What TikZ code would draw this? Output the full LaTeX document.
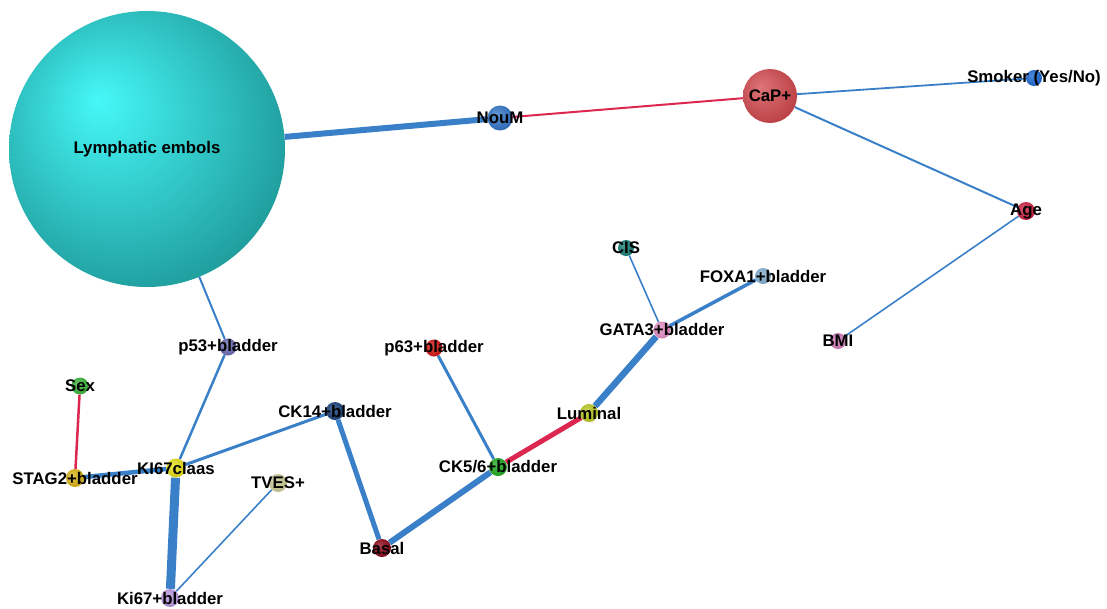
\documentclass[tikz,border=0pt]{standalone}
\usepackage{fontspec}
\setmainfont{Liberation Sans}
\usetikzlibrary{backgrounds}
\definecolor{edgeblue}{RGB}{58,128,200}
\definecolor{edgered}{RGB}{220,40,80}
\definecolor{lymphtop}{RGB}{70,248,248}
\definecolor{lymphedge}{RGB}{30,152,152}
\definecolor{noumc}{RGB}{45,115,200}
\definecolor{capc}{RGB}{210,70,75}
\definecolor{smokerc}{RGB}{20,100,210}
\definecolor{agec}{RGB}{205,25,60}
\definecolor{bmic}{RGB}{210,120,185}
\definecolor{cisc}{RGB}{15,125,115}
\definecolor{foxac}{RGB}{130,175,210}
\definecolor{gatac}{RGB}{230,140,195}
\definecolor{psixc}{RGB}{215,15,15}
\definecolor{luminalc}{RGB}{185,200,25}
\definecolor{ckfivec}{RGB}{25,170,25}
\definecolor{basalc}{RGB}{140,0,20}
\definecolor{ckfourc}{RGB}{20,60,120}
\definecolor{pfivec}{RGB}{105,105,180}
\definecolor{sexc}{RGB}{55,180,55}
\definecolor{stagc}{RGB}{220,180,15}
\definecolor{kiclaasc}{RGB}{230,225,15}
\definecolor{tvesc}{RGB}{205,205,150}
\definecolor{kibladc}{RGB}{185,150,225}
%% sphere-like shading, lit from the upper left
\pgfdeclareradialshading[orbtop,orbedge]{orbshade}{\pgfqpoint{-9bp}{9bp}}{%
  color(0bp)=(orbtop); color(32bp)=(orbedge); color(50bp)=(orbedge)}

\begin{document}
\begin{tikzpicture}[x=1pt,y=-1pt,
  orb colors/.style 2 args={/utils/exec={\colorlet{orbtop}{#1}\colorlet{orbedge}{#2}}},
  orb/.style 2 args={circle,inner sep=0pt,minimum size=#2,
        orb colors={#1!75!white}{#1!88!black},shade,shading=orbshade},
  lbl/.style={font=\fontsize{16.8}{18}\selectfont\bfseries,text=black,inner sep=0pt},
  blueedge/.style={draw=edgeblue,line width=#1},
  rededge/.style={draw=edgered,line width=#1}]
  \useasboundingbox (0,0) rectangle (1107,608);

  %% Nodes
  \node[orb={cyan}{276},orb colors={lymphtop}{lymphedge},
        label={[lbl]center:Lymphatic embols}] (lymph) at (147,149) {};
  \node[orb={noumc}{25},label={[lbl]center:NouM}] (noum) at (500,118) {};
  \node[orb={capc}{54},label={[lbl]center:CaP+}] (cap) at (770,96) {};
  \node[orb={smokerc}{16},label={[lbl]center:Smoker (Yes/No)}] (smoker) at (1034,78) {};
  \node[orb={agec}{18},label={[lbl]center:Age}] (age) at (1026,211) {};
  \node[orb={bmic}{16},label={[lbl]center:BMI}] (bmi) at (838,341) {};
  \node[orb={cisc}{16},label={[lbl]center:CIS}] (cis) at (626,248) {};
  \node[orb={foxac}{16},label={[lbl]center:FOXA1+bladder}] (foxa) at (763,276) {};
  \node[orb={gatac}{17},label={[lbl]center:GATA3+bladder}] (gata) at (662,330) {};
  \node[orb={psixc}{17},label={[lbl]center:p63+bladder}] (psix) at (434,348) {};
  \node[orb={luminalc}{18},label={[lbl]center:Luminal}] (luminal) at (589,413) {};
  \node[orb={ckfivec}{18},label={[lbl]center:CK5/6+bladder}] (ckfive) at (498,467) {};
  \node[orb={basalc}{18},label={[lbl]center:Basal}] (basal) at (382,548) {};
  \node[orb={ckfourc}{18},label={[lbl]center:CK14+bladder}] (ckfour) at (335,411) {};
  \node[orb={pfivec}{17},label={[lbl]center:p53+bladder}] (pfive) at (228,347) {};
  \node[orb={sexc}{17},label={[lbl]center:Sex}] (sex) at (80,386) {};
  \node[orb={stagc}{18},label={[lbl]center:STAG2+bladder}] (stag) at (75,478) {};
  \node[orb={kiclaasc}{19},label={[lbl]center:KI67claas}] (kiclaas) at (176,468) {};
  \node[orb={tvesc}{18},label={[lbl]center:TVES+}] (tves) at (278,483) {};
  \node[orb={kibladc}{18},label={[lbl]center:Ki67+bladder}] (kiblad) at (170,598) {};

  %% Edges, kept under the nodes and their labels
  \begin{scope}[on background layer]
    \draw[blueedge=6] (lymph) -- (noum);
    \draw[rededge=2] (noum) -- (cap);
    \draw[blueedge=1.8] (cap) -- (smoker);
    \draw[blueedge=2] (cap) -- (age);
    \draw[blueedge=1.6] (age) -- (bmi);
    \draw[blueedge=2] (lymph) -- (pfive);
    \draw[blueedge=2.5] (pfive) -- (kiclaas);
    \draw[rededge=2.5] (sex) -- (stag);
    \draw[blueedge=4.5] (stag) -- (kiclaas);
    \draw[blueedge=3] (kiclaas) -- (ckfour);
    \draw[blueedge=9] (kiclaas) -- (kiblad);
    \draw[blueedge=1.6] (tves) -- (kiblad);
    \draw[blueedge=5] (ckfour) -- (basal);
    \draw[blueedge=6] (basal) -- (ckfive);
    \draw[blueedge=3] (psix) -- (ckfive);
    \draw[rededge=5] (ckfive) -- (luminal);
    \draw[blueedge=6.5] (luminal) -- (gata);
    \draw[blueedge=1.6] (gata) -- (cis);
    \draw[blueedge=3.5] (gata) -- (foxa);
  \end{scope}
\end{tikzpicture}
\end{document}
